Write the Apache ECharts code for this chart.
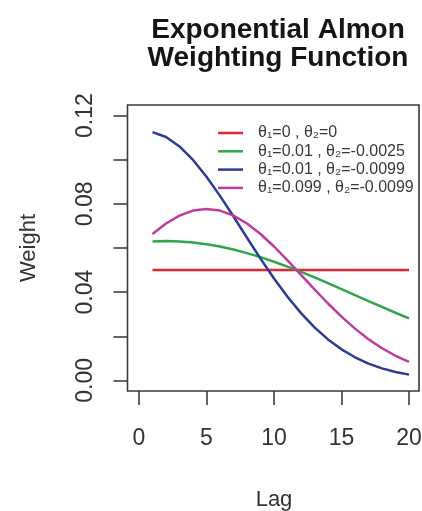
<!DOCTYPE html>
<html>
<head>
<meta charset="utf-8">
<script src="https://cdn.jsdelivr.net/npm/echarts@6/dist/echarts.min.js"></script>
<style>
html,body{margin:0;padding:0;background:#fff;}
#chart{width:422px;height:511px;}
</style>
</head>
<body>
<div id="chart"></div>
<script>
// ---- data ----
var lags = [1,2,3,4,5,6,7,8,9,10,11,12,13,14,15,16,17,18,19,20];
var seriesNames = ['θ₁=0 , θ₂=0', 'θ₁=0.01 , θ₂=-0.0025', 'θ₁=0.01 , θ₂=-0.0099', 'θ₁=0.099 , θ₂=-0.0099'];
var wFlat = [0.05,0.05,0.05,0.05,0.05,0.05,0.05,0.05,0.05,0.05,0.05,0.05,0.05,0.05,0.05,0.05,0.05,0.05,0.05,0.05];
var wSlow = [0.06297,0.06313,0.06297,0.06250,0.06172,0.06065,0.05930,0.05769,0.05585,0.05379,0.05155,0.04916,0.04665,0.04404,0.04137,0.03867,0.03597,0.03329,0.03065,0.02808];
var wFast = [0.11248,0.11029,0.10602,0.09991,0.09232,0.08363,0.07426,0.06466,0.05519,0.04619,0.03789,0.03048,0.02404,0.01858,0.01409,0.01047,0.00763,0.00545,0.00381,0.00262];
var wHump = [0.06633,0.07109,0.07470,0.07695,0.07771,0.07695,0.07470,0.07109,0.06633,0.06068,0.05441,0.04784,0.04124,0.03485,0.02888,0.02346,0.01868,0.01458,0.01116,0.00838];
var xTicks = [0, 5, 10, 15, 20];
var yTickLabels = ['0.00', '0.04', '0.08', '0.12'];
var titleText = 'Exponential Almon\nWeighting Function';
var xName = 'Lag';
var yName = 'Weight';

// ---- styling ----
var colors = ['#e3262f', '#2fa64a', '#2b3d92', '#bf3b9f'];
var FONT = 'Liberation Sans, Arial, DejaVu Sans, sans-serif';
var X_MIN = xTicks[0], X_MAX = xTicks[xTicks.length - 1];
var Y_MIN = 0, Y_MAX = 0.12;

function pairs(ys) {
  return lags.map(function (x, i) { return [x, ys[i]]; });
}
var allSeries = [wFlat, wSlow, wFast, wHump];

var tickStyle = {show: true, length: 14, inside: false, lineStyle: {color: '#333', width: 1.5}};

var chart = echarts.init(document.getElementById('chart'), null, {renderer: 'canvas'});
chart.setOption({
  animation: false,
  backgroundColor: '#ffffff',
  title: {
    text: titleText,
    left: 273,
    top: 11,
    textAlign: 'center',
    textStyle: {fontFamily: FONT, fontWeight: 'bold', fontSize: 28, lineHeight: 28, color: '#151515'}
  },
  legend: {
    orient: 'vertical',
    left: 218,
    top: 124,
    itemWidth: 25,
    itemHeight: 2.5,
    itemGap: 0.3,
    icon: 'rect',
    padding: 0,
    textStyle: {fontFamily: FONT, fontSize: 16, lineHeight: 18, color: '#3a3a3a', padding: [0, 0, 0, 10]},
    data: seriesNames
  },
  grid: [
    {left: 139, right: 13, top: 115.6, bottom: 130.6, show: false, containLabel: false, outerBoundsMode: 'none'},   // data
    {left: 139, right: 13, top: 115.6, bottom: 120, show: false, containLabel: false, outerBoundsMode: 'none'},     // x axis display (at box edge)
    {left: 127.5, right: 13, top: 115.6, bottom: 130.6, show: false, containLabel: false, outerBoundsMode: 'none'}  // y axis display (at box edge)
  ],
  xAxis: [
    {gridIndex: 0, type: 'value', min: X_MIN, max: X_MAX, show: false},
    {
      gridIndex: 1, type: 'value', min: X_MIN, max: X_MAX, interval: 5,
      name: xName, nameLocation: 'middle', nameGap: 98,
      nameTextStyle: {fontFamily: FONT, fontSize: 22, color: '#333'},
      axisLine: {show: false},
      axisTick: tickStyle,
      axisLabel: {fontFamily: FONT, fontSize: 23, color: '#333', margin: 36},
      splitLine: {show: false}
    },
    {gridIndex: 2, type: 'value', min: 0, max: 1, show: false}
  ],
  yAxis: [
    {gridIndex: 0, type: 'value', min: Y_MIN, max: Y_MAX, show: false},
    {gridIndex: 1, type: 'value', min: 0, max: 1, show: false},
    {
      gridIndex: 2, type: 'value', min: Y_MIN, max: Y_MAX, interval: 0.02,
      name: yName, nameLocation: 'middle', nameRotate: 90, nameGap: 88,
      nameTextStyle: {fontFamily: FONT, fontSize: 22, color: '#333'},
      axisLine: {show: false},
      axisTick: tickStyle,
      axisLabel: {
        fontFamily: FONT, fontSize: 23, color: '#333', margin: 30, rotate: 90,
        formatter: function (v) {
          var s = v.toFixed(2);
          return yTickLabels.indexOf(s) >= 0 ? s : '';
        }
      },
      splitLine: {show: false}
    }
  ],
  graphic: [{
    type: 'rect',
    shape: {x: 127.5, y: 105, width: 291.5, height: 286},
    style: {fill: null, stroke: '#3a3a3a', lineWidth: 1.6},
    silent: true,
    z: 10
  }],
  series: allSeries.map(function (ys, k) {
    return {
      name: seriesNames[k],
      type: 'line',
      xAxisIndex: 0,
      yAxisIndex: 0,
      data: pairs(ys),
      showSymbol: false,
      symbol: 'none',
      color: colors[k],
      itemStyle: {color: colors[k]},
      lineStyle: {color: colors[k], width: 2.5},
      z: 2 + k
    };
  })
});
</script>
</body>
</html>
